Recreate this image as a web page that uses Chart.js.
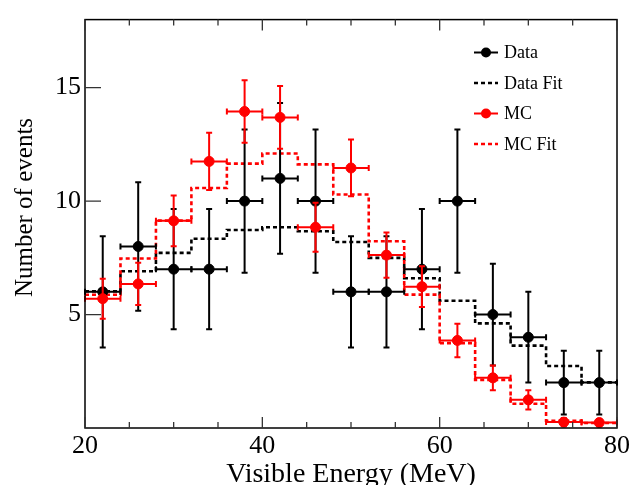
<!DOCTYPE html>
<html>
<head>
<meta charset="utf-8">
<script src="https://cdn.jsdelivr.net/npm/chart.js@4.4.1/dist/chart.umd.min.js"></script>
<style>
  html,body{margin:0;padding:0;background:#fff;}
  #wrap{width:641px;height:485px;}
</style>
</head>
<body>
<div id="wrap"><canvas id="c" width="641" height="485"></canvas></div>
<script>
// ===================== DATA =====================
const binEdges=[20,24,28,32,36,40,44,48,52,56,60,64,68,72,76,80];
const binCenters=[22,26,30,34,38,42,46,50,54,58,62,66,70,74,78];
const binHalf=[2,2,2,2,2,2,2,2,2,2,2,2,2,2,2];

const dataCounts=[6,8,7,7,10,11,10,6,6,7,10,5,4,2,2];
const dataErr=[2.45,2.83,2.65,2.65,3.16,3.32,3.16,2.45,2.45,2.65,3.16,2.24,2.0,1.41,1.41];
const mcCounts=[5.7,6.35,9.13,11.75,13.95,13.69,8.85,11.46,7.62,6.23,3.86,2.21,1.24,0.26,0.24];
const mcErr=[0.88,0.93,1.12,1.26,1.38,1.38,1.08,1.25,1.0,0.9,0.74,0.55,0.42,0.18,0.16];

const dataFit=[6.03,6.91,7.72,8.34,8.73,8.85,8.67,8.2,7.5,6.6,5.61,4.61,3.63,2.73,2.01];
const mcFit=[5.87,7.47,9.14,10.58,11.65,12.1,11.62,10.29,8.23,5.88,3.74,2.12,1.07,0.32,0.22];

const xTicks=[20,40,60,80];
const yTicks=[5,10,15];

const SERIF='"Liberation Serif","DejaVu Serif",serif';

// histogram outline as step points at the bin edges
function stepPoints(vals){
  const pts=vals.map((v,i)=>({x:binEdges[i],y:v}));
  pts.push({x:binEdges[binEdges.length-1],y:vals[vals.length-1]});
  return pts;
}
function pointData(vals){return vals.map((v,i)=>({x:binCenters[i],y:v}));}

// ===================== PLUGINS =====================
const errorBars={
  id:'errorBars',
  beforeDatasetDraw(chart,args){
    const ds=chart.data.datasets[args.index];
    if(!ds.errY) return;
    const {ctx,scales:{x,y}}=chart;
    ctx.save();
    ctx.strokeStyle=ds.borderColor;
    ctx.lineWidth=2;
    ds.data.forEach((p,i)=>{
      const px=x.getPixelForValue(p.x), py=y.getPixelForValue(p.y);
      const x0=x.getPixelForValue(p.x-binHalf[i]), x1=x.getPixelForValue(p.x+binHalf[i]);
      const y0=y.getPixelForValue(p.y-ds.errY[i]), y1=y.getPixelForValue(p.y+ds.errY[i]);
      ctx.beginPath();
      ctx.moveTo(x0,py);ctx.lineTo(x1,py);
      ctx.moveTo(px,y0);ctx.lineTo(px,y1);
      // caps
      ctx.moveTo(x0,py-3);ctx.lineTo(x0,py+3);
      ctx.moveTo(x1,py-3);ctx.lineTo(x1,py+3);
      ctx.moveTo(px-3,y0);ctx.lineTo(px+3,y0);
      ctx.moveTo(px-3,y1);ctx.lineTo(px+3,y1);
      ctx.stroke();
    });
    ctx.restore();
  }
};

const frameAndLegend={
  id:'frameAndLegend',
  afterDraw(chart){
    const {ctx,chartArea:a,scales:{x,y}}=chart;
    ctx.save();
    // frame
    ctx.strokeStyle='#000';ctx.lineWidth=1.5;
    ctx.strokeRect(a.left,a.top,a.right-a.left,a.bottom-a.top);
    // inward ticks
    ctx.strokeStyle='#333';ctx.lineWidth=1.3;
    ctx.beginPath();
    for(let v=x.min;v<=x.max;v+=5){
      const px=x.getPixelForValue(v);
      const len=(v%20===0)?11:6;
      ctx.moveTo(px,a.bottom);ctx.lineTo(px,a.bottom-len);
      ctx.moveTo(px,a.top);ctx.lineTo(px,a.top+len);
    }
    yTicks.forEach(v=>{
      const py=y.getPixelForValue(v);
      ctx.moveTo(a.left,py);ctx.lineTo(a.left+16,py);
    });
    ctx.stroke();

    // axis titles
    ctx.fillStyle='#000';
    ctx.font='28px '+SERIF;
    ctx.textAlign='center';ctx.textBaseline='alphabetic';
    ctx.fillText('Visible Energy (MeV)',(a.left+a.right)/2,482);
    ctx.save();
    ctx.translate(32,207.5);ctx.rotate(-Math.PI/2);
    ctx.font='25px '+SERIF;
    ctx.fillText('Number of events',0,0);
    ctx.restore();

    // legend
    const items=[
      {label:'Data',color:'#000',dash:false,marker:true},
      {label:'Data Fit',color:'#000',dash:true,marker:false},
      {label:'MC',color:'#f00',dash:false,marker:true},
      {label:'MC Fit',color:'#f00',dash:true,marker:false},
    ];
    ctx.font='18px '+SERIF;ctx.textAlign='left';ctx.textBaseline='middle';
    items.forEach((it,i)=>{
      const ly=52.5+i*30.5;
      ctx.strokeStyle=it.color;ctx.fillStyle=it.color;
      ctx.lineWidth=it.dash?2.6:2;
      ctx.setLineDash(it.dash?[4,3]:[]);
      ctx.beginPath();ctx.moveTo(474,ly);ctx.lineTo(498,ly);ctx.stroke();
      ctx.setLineDash([]);
      if(it.marker){ctx.beginPath();ctx.arc(486,ly,5,0,Math.PI*2);ctx.fill();}
      ctx.fillStyle='#000';
      ctx.fillText(it.label,504,ly+1);
    });
    ctx.restore();
  }
};

// ===================== CHART =====================
new Chart(document.getElementById('c').getContext('2d'),{
  type:'scatter',
  data:{datasets:[
    {label:'MC',data:pointData(mcCounts),errY:mcErr,borderColor:'#f00',backgroundColor:'#f00',pointRadius:5,pointHoverRadius:5,showLine:false},
    {label:'Data',data:pointData(dataCounts),errY:dataErr,borderColor:'#000',backgroundColor:'#000',pointRadius:5,pointHoverRadius:5,showLine:false},
    {label:'MC Fit',type:'line',data:stepPoints(mcFit),stepped:'before',borderColor:'#f00',borderWidth:2.6,borderDash:[4,3],pointRadius:0,fill:false},
    {label:'Data Fit',type:'line',data:stepPoints(dataFit),stepped:'before',borderColor:'#000',borderWidth:2.6,borderDash:[4,3],pointRadius:0,fill:false},
  ]},
  options:{
    responsive:false,animation:false,devicePixelRatio:1,
    layout:{padding:{top:13,right:24,left:0,bottom:0}},
    plugins:{legend:{display:false},tooltip:{enabled:false}},
    scales:{
      x:{type:'linear',min:20,max:80,
        afterFit:s=>{s.height=57;},
        grid:{display:false,drawTicks:false},border:{display:false},
        ticks:{stepSize:5,padding:3,color:'#000',font:{family:SERIF,size:26},maxRotation:0,autoSkip:false,
          callback:v=>xTicks.includes(v)?String(v):''}},
      y:{type:'linear',min:0,max:18,
        afterFit:s=>{s.width=85;},
        grid:{display:false,drawTicks:false},border:{display:false},
        ticks:{stepSize:5,padding:4,color:'#000',font:{family:SERIF,size:26},
          callback:v=>yTicks.includes(v)?String(v):''}}
    }
  },
  plugins:[errorBars,frameAndLegend]
});
</script>
</body>
</html>
